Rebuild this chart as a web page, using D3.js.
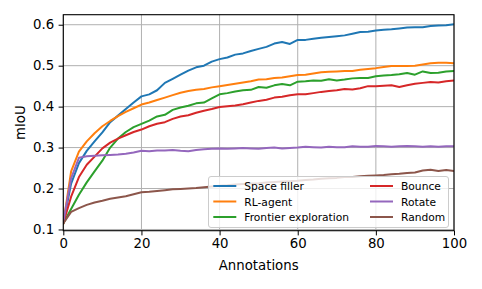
<!DOCTYPE html>
<html>
<head>
<meta charset="utf-8">
<script src="https://cdn.jsdelivr.net/npm/d3@7"></script>
<style>
  body { margin: 0; background: #fff; }
  text { font-family: "DejaVu Sans", sans-serif; }
</style>
</head>
<body>
<div class="canvas"></div>
<script>
// data
const annotations = [0, 2, 4, 6, 8, 10, 12, 14, 16, 18, 20, 22, 24, 26, 28, 30, 32, 34, 36, 38, 40,
    42, 44, 46, 48, 50, 52, 54, 56, 58, 60, 62, 64, 66, 68, 70, 72, 74, 76, 78, 80,
    82, 84, 86, 88, 90, 92, 94, 96, 98, 100];

const spaceFiller = [0.115, 0.212, 0.262, 0.292, 0.315, 0.337, 0.362, 0.378, 0.394, 0.410, 0.425,
    0.430, 0.440, 0.458, 0.468, 0.478, 0.488, 0.496, 0.500, 0.510, 0.516,
    0.520, 0.527, 0.530, 0.536, 0.541, 0.546, 0.554, 0.558, 0.553, 0.563,
    0.563, 0.566, 0.568, 0.570, 0.572, 0.574, 0.578, 0.582, 0.583, 0.586,
    0.588, 0.589, 0.591, 0.593, 0.594, 0.594, 0.597, 0.598, 0.599, 0.601];

const rlAgent = [0.115, 0.242, 0.290, 0.315, 0.335, 0.352, 0.365, 0.377, 0.387, 0.396, 0.405,
    0.410, 0.416, 0.422, 0.428, 0.434, 0.438, 0.441, 0.443, 0.447, 0.450,
    0.453, 0.456, 0.459, 0.462, 0.466, 0.467, 0.470, 0.471, 0.474, 0.477,
    0.478, 0.481, 0.484, 0.485, 0.486, 0.487, 0.487, 0.490, 0.492, 0.494,
    0.497, 0.499, 0.499, 0.499, 0.500, 0.503, 0.506, 0.507, 0.507, 0.506];

const frontier = [0.115, 0.150, 0.185, 0.215, 0.242, 0.268, 0.300, 0.322, 0.338, 0.350, 0.358,
    0.366, 0.376, 0.380, 0.392, 0.398, 0.402, 0.408, 0.410, 0.420, 0.430,
    0.433, 0.437, 0.440, 0.441, 0.448, 0.446, 0.452, 0.455, 0.452, 0.461,
    0.462, 0.464, 0.463, 0.467, 0.464, 0.466, 0.469, 0.470, 0.470, 0.474,
    0.476, 0.477, 0.479, 0.482, 0.478, 0.486, 0.482, 0.483, 0.486, 0.487];

const bounce = [0.115, 0.180, 0.228, 0.258, 0.278, 0.298, 0.312, 0.322, 0.330, 0.338, 0.344,
    0.352, 0.358, 0.362, 0.370, 0.376, 0.379, 0.385, 0.390, 0.394, 0.399,
    0.401, 0.403, 0.406, 0.410, 0.414, 0.417, 0.422, 0.424, 0.428, 0.430,
    0.430, 0.433, 0.436, 0.438, 0.440, 0.443, 0.442, 0.445, 0.450, 0.450,
    0.451, 0.452, 0.448, 0.452, 0.456, 0.458, 0.460, 0.459, 0.462, 0.464];

const rotate = [0.118, 0.225, 0.275, 0.279, 0.280, 0.281, 0.282, 0.283, 0.285, 0.288, 0.292,
    0.291, 0.293, 0.293, 0.294, 0.292, 0.291, 0.294, 0.296, 0.297, 0.298,
    0.297, 0.298, 0.299, 0.298, 0.297, 0.299, 0.300, 0.298, 0.299, 0.300,
    0.302, 0.301, 0.300, 0.302, 0.301, 0.301, 0.303, 0.302, 0.302, 0.304,
    0.303, 0.302, 0.303, 0.304, 0.303, 0.302, 0.303, 0.302, 0.303, 0.303];

const random = [0.115, 0.143, 0.152, 0.160, 0.166, 0.170, 0.175, 0.178, 0.181, 0.186, 0.191,
    0.192, 0.194, 0.196, 0.198, 0.199, 0.200, 0.201, 0.203, 0.205, 0.207,
    0.208, 0.210, 0.211, 0.212, 0.213, 0.215, 0.216, 0.217, 0.218, 0.219,
    0.221, 0.222, 0.224, 0.225, 0.226, 0.228, 0.228, 0.230, 0.231, 0.232,
    0.233, 0.235, 0.236, 0.238, 0.239, 0.244, 0.246, 0.243, 0.245, 0.243];

const seriesNames = ['Space filler', 'RL-agent', 'Frontier exploration', 'Bounce', 'Rotate', 'Random'];
const seriesValues = [spaceFiller, rlAgent, frontier, bounce, rotate, random];
const colours = ['#1f77b4', '#ff7f0e', '#2ca02c', '#d62728', '#9467bd', '#8c564b'];

const xTicks = [0, 20, 40, 60, 80, 100];
const yTicks = [0.1, 0.2, 0.3, 0.4, 0.5, 0.6];

const dims = {width: 482, height: 289};
const plot = {left: 63.3, right: 454, top: 14.7, bottom: 230.7};

const svg = d3.select('.canvas')
    .append('svg')
    .attr('width', dims.width)
    .attr('height', dims.height);

const x = d3.scaleLinear().domain([0, 100]).range([plot.left, plot.right]);
const y = d3.scaleLinear().domain([0.097, 0.6245]).range([plot.bottom, plot.top]);

// grid
const grid = svg.append('g').attr('stroke', '#b0b0b0').attr('stroke-width', 1);
grid.selectAll('.gx').data(xTicks).enter().append('line')
    .attr('x1', d => x(d)).attr('x2', d => x(d))
    .attr('y1', plot.top).attr('y2', plot.bottom);
grid.selectAll('.gy').data(yTicks).enter().append('line')
    .attr('x1', plot.left).attr('x2', plot.right)
    .attr('y1', d => y(d)).attr('y2', d => y(d));

// lines
const line = d3.line()
    .x((d, i) => x(annotations[i]))
    .y(d => y(d));

svg.append('defs').append('clipPath').attr('id', 'clip')
    .append('rect')
    .attr('x', plot.left).attr('y', plot.top)
    .attr('width', plot.right - plot.left).attr('height', plot.bottom - plot.top);

svg.append('g').attr('clip-path', 'url(#clip)')
    .selectAll('path')
    .data(seriesValues)
    .enter().append('path')
    .attr('d', line)
    .attr('fill', 'none')
    .attr('stroke', (d, i) => colours[i])
    .attr('stroke-width', 2)
    .attr('stroke-linejoin', 'round')
    .attr('stroke-linecap', 'square');

// axes
const xAxis = svg.append('g')
    .attr('transform', `translate(0, ${plot.bottom})`)
    .call(d3.axisBottom(x).tickValues(xTicks).tickSize(4.7).tickPadding(3.5).tickFormat(d3.format('d')));
const yAxis = svg.append('g')
    .attr('transform', `translate(${plot.left}, 0)`)
    .call(d3.axisLeft(y).tickValues(yTicks).tickSize(4.7).tickPadding(4.5).tickFormat(d3.format('.1f')));

[xAxis, yAxis].forEach(a => {
    a.select('.domain').remove();
    a.selectAll('text').attr('font-size', 13.3).attr('fill', '#000')
        .attr('font-family', '"DejaVu Sans", sans-serif');
    a.selectAll('line').attr('stroke', '#000').attr('stroke-width', 1);
});

// frame
svg.append('rect')
    .attr('x', plot.left).attr('y', plot.top)
    .attr('width', plot.right - plot.left).attr('height', plot.bottom - plot.top)
    .attr('fill', 'none').attr('stroke', '#000').attr('stroke-width', 1.1);

// axis labels
svg.append('text')
    .attr('x', (plot.left + plot.right) / 2).attr('y', 270)
    .attr('text-anchor', 'middle').attr('font-size', 13.3)
    .text('Annotations');

svg.append('text')
    .attr('transform', `translate(25, ${(plot.top + plot.bottom) / 2}) rotate(-90)`)
    .attr('text-anchor', 'middle').attr('font-size', 13.3)
    .text('mIoU');

// legend
const legend = svg.append('g');
legend.append('rect')
    .attr('x', 208.5).attr('y', 176.5).attr('width', 240).attr('height', 51)
    .attr('rx', 2.5)
    .attr('fill', '#fff').attr('fill-opacity', 0.8)
    .attr('stroke', '#cccccc').attr('stroke-width', 1);

const rowY = [186, 201.5, 217];
const colX = [213.3, 370];

const items = legend.selectAll('.item')
    .data(seriesNames)
    .enter().append('g')
    .attr('transform', (d, i) => `translate(${colX[Math.floor(i / 3)]}, ${rowY[i % 3]})`);

items.append('line')
    .attr('x1', 0).attr('x2', 23)
    .attr('stroke', (d, i) => colours[i])
    .attr('stroke-width', 2);

items.append('text')
    .attr('x', 31).attr('y', 4)
    .attr('font-size', 10.7)
    .text(d => d);
</script>
</body>
</html>
